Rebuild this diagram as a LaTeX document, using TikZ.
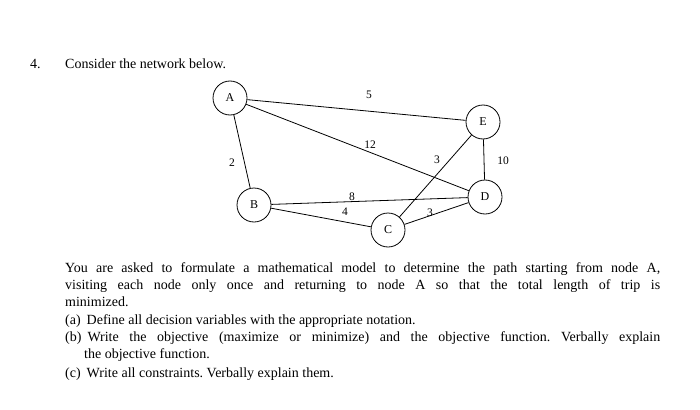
\documentclass[tikz,border=0pt]{standalone}
\usepackage{fontspec}
\setmainfont{Liberation Serif}
\begin{document}
\frenchspacing
\begin{tikzpicture}[x=1pt,y=-1pt,
  v/.style={circle,draw,line width=0.8pt,minimum size=34pt,inner sep=0pt,font=\fontsize{12}{13}\selectfont},
  e/.style={draw,line width=0.8pt},
  lb/.style={font=\fontsize{11.5}{12}\selectfont,inner sep=0pt},
  tx/.style={anchor=base west,inner sep=0pt,font=\fontsize{14}{15}\selectfont}]
\useasboundingbox (0,0) rectangle (700,409);
\node[v] (A) at (230,98) {A};
\node[v] (E) at (483,122) {E};
\node[v] (D) at (485,197) {D};
\node[v] (B) at (254,205) {B};
\node[v] (C) at (388,230) {C};
\draw[e] (A) -- (E);
\draw[e] (A) -- (D);
\draw[e] (A) -- (B);
\draw[e] (B) -- (D);
\draw[e] (B) -- (C);
\draw[e] (C) -- (D);
\draw[e] (C) -- (E);
\draw[e] (E) -- (D);
\node[lb] (l5) at (369,95) {5};
\node[lb] (l12) at (370,145) {12};
\node[lb] (l3a) at (437,160) {3};
\node[lb] (l10) at (503,161) {10};
\node[lb] (l2) at (232,163) {2};
\node[lb] (l8) at (352,197) {8};
\node[lb] (l4) at (345,212) {4};
\node[lb] (l3b) at (430,213) {3};
\node[tx] (t0) at (30,69) {4.};
\node[tx] (t1) at (65,69) {Consider the network below.};
\node[tx] (p1) at (65,272) {\makebox[595pt][s]{You are asked to formulate a mathematical model to determine the path starting from node A,}};
\node[tx] (p2) at (65,289) {\makebox[595pt][s]{visiting each node only once and returning to node A so that the total length of trip is}};
\node[tx] (p3) at (65,306) {minimized.};
\node[tx] (p4) at (65,324) {(a)\hspace{6pt}Define all decision variables with the appropriate notation.};
\node[tx] (p5) at (65,341) {\makebox[595pt][s]{(b)\hspace{6pt}Write the objective (maximize or minimize) and the objective function. Verbally explain}};
\node[tx] (p6) at (84,358) {the objective function.};
\node[tx] (p7) at (65,377) {(c)\hspace{6pt}Write all constraints. Verbally explain them.};
\end{tikzpicture}
\end{document}
